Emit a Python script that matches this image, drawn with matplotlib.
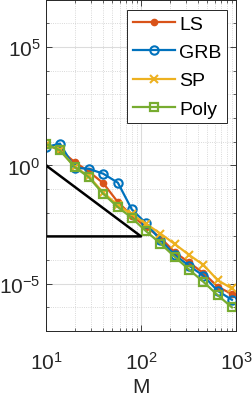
import numpy as np
import matplotlib
matplotlib.use("Agg")
import matplotlib.pyplot as plt
from matplotlib.ticker import LogLocator, NullFormatter, FixedLocator, FuncFormatter

plt.rcParams['font.family'] = ['Liberation Sans', 'DejaVu Sans']
plt.rcParams['mathtext.fontset'] = 'custom'
plt.rcParams['mathtext.rm'] = 'Liberation Sans'
plt.rcParams['mathtext.it'] = 'Liberation Sans:italic'
plt.rcParams['mathtext.bf'] = 'Liberation Sans:bold'

# Data (log10 of error values)
M = [10, 14, 20, 28, 40, 57, 80, 113, 160, 226, 320, 453, 640, 905]
LS_log = [0.88, 0.66, 0.14, -0.25, -0.75, -1.55, -2.12, -2.6, -3.05, -3.67, -4.1, -4.55, -5.12, -5.44]
GRB_log = [0.78, 0.92, -0.1, -0.14, -0.35, -0.73, -1.86, -2.45, -3.15, -3.78, -4.24, -4.66, -5.3, -5.68]
SP_log = [0.88, 0.64, -0.05, -0.45, -1.15, -1.68, -2.07, -2.47, -2.88, -3.32, -3.78, -4.2, -4.85, -5.2]
Poly_log = [0.9, 0.64, -0.07, -0.49, -1.2, -1.76, -2.22, -2.78, -3.3, -3.86, -4.4, -4.92, -5.48, -6.0]

tri_x = [10, 10, 100, 10]
tri_y = [1.0, 1e-3, 1e-3, 1.0]

ytick_vals = [1e-5, 1e0, 1e5]
xtick_vals = [1e1, 1e2, 1e3]

colors = {'LS': '#D95319', 'GRB': '#0072BD', 'SP': '#EDB120', 'Poly': '#77AC30'}

fig = plt.figure(figsize=(2.53, 4.02), dpi=100)
ax = fig.add_axes([0.182, 0.174, 0.751, 0.824])

ax.plot(M, 10 ** np.array(LS_log), '-o', color=colors['LS'], lw=1.6, ms=4.5,
        mfc=colors['LS'], label='LS')
ax.plot(M, 10 ** np.array(GRB_log), '-o', color=colors['GRB'], lw=1.6, ms=6,
        mfc='none', mew=1.5, label='GRB')
ax.plot(M, 10 ** np.array(SP_log), '-x', color=colors['SP'], lw=1.6, ms=6,
        mew=1.5, label='SP')
ax.plot(M, 10 ** np.array(Poly_log), '-s', color=colors['Poly'], lw=1.6, ms=6,
        mfc='none', mew=1.6, label='Poly')
ax.plot(tri_x, tri_y, '-', color='black', lw=1.8)

ax.set_xscale('log')
ax.set_yscale('log')
ax.set_xlim(10, 1000)
ax.set_ylim(1e-7, 1e7)

ax.yaxis.set_major_locator(FixedLocator(ytick_vals))
ax.yaxis.set_minor_locator(LogLocator(base=10, subs=(1.0,), numticks=30))
ax.yaxis.set_minor_formatter(NullFormatter())
ax.xaxis.set_major_locator(FixedLocator(xtick_vals))
ax.xaxis.set_minor_locator(LogLocator(base=10, subs=np.arange(2, 10), numticks=30))
ax.xaxis.set_minor_formatter(NullFormatter())

def fmt(v, pos):
    e = int(round(np.log10(v)))
    return r'$\mathregular{10^{%d}}$' % e

ax.xaxis.set_major_formatter(FuncFormatter(fmt))
ax.yaxis.set_major_formatter(FuncFormatter(fmt))

ax.grid(True, which='major', color='#dcdcdc', lw=0.8, ls='-')
ax.grid(True, which='minor', color='#cccccc', lw=0.6, ls=':')
ax.set_axisbelow(True)

ax.tick_params(which='both', direction='in', top=True, right=True, colors='#262626',
               labelsize=15)
ax.tick_params(which='major', length=4, width=0.6)
ax.tick_params(which='minor', length=2, width=0.5)
ax.tick_params(axis='x', which='major', pad=14)
ax.tick_params(axis='y', which='major', pad=4)
for s in ax.spines.values():
    s.set_color('#262626')
    s.set_linewidth(0.7)

ax.set_xlabel('M', fontsize=15, color='#262626', labelpad=3)

leg = ax.legend(loc='upper right', bbox_to_anchor=(0.953, 0.970), fontsize=14,
                frameon=True, fancybox=False, edgecolor='#262626', framealpha=1,
                handlelength=2.2, labelspacing=0.55, borderpad=0.28,
                handletextpad=0.2, borderaxespad=0)
leg.get_frame().set_linewidth(0.7)

fig.savefig('out.png', dpi=100)
